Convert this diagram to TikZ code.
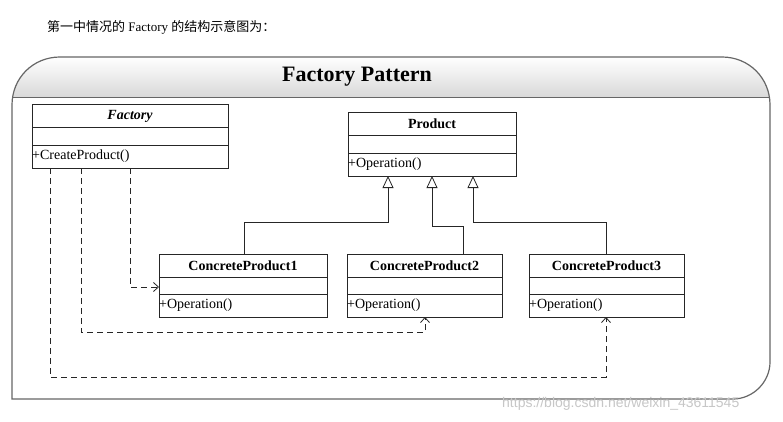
\documentclass[tikz,border=0pt]{standalone}
\usepackage{fontspec}
\setmainfont{Liberation Serif}
\newfontfamily\cjk{Noto Sans CJK SC}
\newfontfamily\wm{Liberation Sans}
\usetikzlibrary{arrows.meta}
\begin{document}
\begin{tikzpicture}[x=1pt,y=-1pt,
  box/.style={draw=black!85,line width=0.8pt},
  inh/.style={draw=black!85,line width=0.8pt,-{Triangle[open,width=11pt,length=12pt]}},
  dep/.style={draw=black!85,line width=0.8pt,dash pattern=on 6pt off 4pt,-{Straight Barb[length=5pt,width=9pt]}},
  cname/.style={font=\fontsize{14}{14}\selectfont\bfseries},
  op/.style={font=\fontsize{14}{14}\selectfont,anchor=west,inner sep=0pt}]
\useasboundingbox (0,0) rectangle (783,422);
\fill[white] (0,0) rectangle (783,422);
\node[anchor=west,inner sep=0pt] (cap) at (47,27) {\fontsize{13}{13}\selectfont{\cjk 第一中情况的} Factory {\cjk 的结构示意图为：}};
% frame header
\shade[top color=white,bottom color=black!18] (12,98) -- (12,105) .. controls (12,78) and (33,57) .. (60,57) -- (722,57) .. controls (749,57) and (770,78) .. (770,105) -- (770,98) -- cycle;
\draw[black!60,line width=1.2pt] (12,399) -- (12,105) .. controls (12,78) and (33,57) .. (60,57) -- (722,57) .. controls (749,57) and (770,78) .. (770,105) -- (770,362) .. controls (770,382) and (753,399) .. (733,399) -- cycle;
\draw[black!60,line width=1pt] (12,98) -- (770,98);
\node[font=\fontsize{22}{22}\selectfont\bfseries] (title) at (357,77) {Factory Pattern};
% Factory
\draw[box] (32,104) rectangle (228,168); \draw[box] (32,127)--(228,127) (32,145)--(228,145);
\node[cname,font=\fontsize{14}{14}\selectfont\bfseries\itshape] (fac) at (130,116) {Factory};
\node[op] (facop) at (32,156) {+CreateProduct()};
% Product
\draw[box] (348,112) rectangle (516,176); \draw[box] (348,135)--(516,135) (348,153)--(516,153);
\node[cname] (prod) at (432,124) {Product};
\node[op] (prodop) at (348,164) {+Operation()};
% CPs
\foreach \a/\b/\n in {159/327/1,347/502/2,529/684/3}{
  \draw[box] (\a,254) rectangle (\b,317); \draw[box] (\a,277)--(\b,277) (\a,294)--(\b,294);
  \node[cname] (cp\n) at ({(\a+\b)/2},266) {ConcreteProduct\n};
  \node[op] (cpop\n) at (\a,305) {+Operation()};
}
% inheritance
\coordinate (t1) at (388,176); \coordinate (t2) at (432,176); \coordinate (t3) at (473,176);
\draw[inh] (244,254) |- (388,222) -- (t1);
\draw[inh] (463,254) |- (432,226) -- (t2);
\draw[inh] (606,254) |- (473,222) -- (t3);
% dependencies
\draw[dep] (130,168) |- (159,287);
\draw[dep] (81,168) |- (425,332) -- (425,317);
\draw[dep] (50,168) |- (606,377) -- (606,317);
\node[anchor=west,inner sep=0pt,text=black!22,font=\wm\fontsize{14}{14}\selectfont] (wmk) at (502,404) {https://blog.csdn.net/weixin\_43611545};
\end{tikzpicture}
\end{document}
